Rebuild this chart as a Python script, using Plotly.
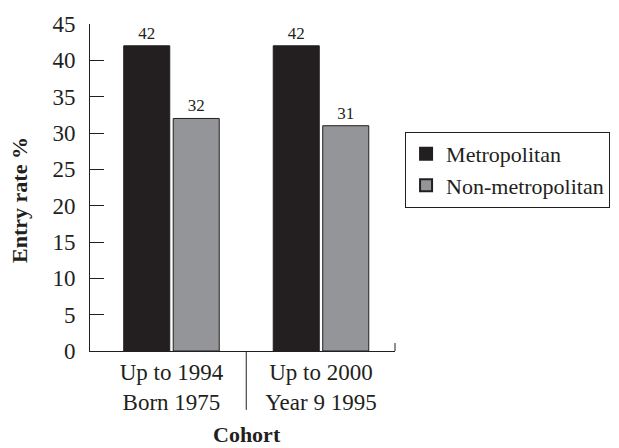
import plotly.graph_objects as go

categories = ["Up to 1994<br>Born 1975", "Up to 2000<br>Year 9 1995"]
series_names = ["Metropolitan", "Non-metropolitan"]
metropolitan = [42, 42]
non_metropolitan = [32, 31]
y_ticks = [0, 5, 10, 15, 20, 25, 30, 35, 40, 45]

FONT = "Liberation Serif"
INK = "#231f20"
colors = ["#231f20", "#939598"]

fig = go.Figure()
for name, vals, col in zip(series_names, [metropolitan, non_metropolitan], colors):
    fig.add_trace(go.Bar(
        x=categories, y=vals, name=name, showlegend=False,
        marker=dict(color=col, line=dict(color=INK, width=1)),
        text=[str(v) for v in vals], textposition="outside",
        textfont=dict(family=FONT, size=17, color=INK),
        cliponaxis=False,
    ))
# legend proxies (larger square swatches)
for name, col in zip(series_names, colors):
    fig.add_trace(go.Scatter(
        x=[None], y=[None], mode="markers", name=name,
        marker=dict(symbol="square", size=15, color=col, line=dict(color=INK, width=1)),
    ))

# the page body has an 8px default margin; size the figure so the page is filled
fig.update_layout(
    width=611, height=440,
    margin=dict(l=82, r=224, t=16, b=97, autoexpand=False),
    paper_bgcolor="white", plot_bgcolor="white",
    font=dict(family=FONT, size=23, color=INK),
    barmode="group", bargap=0.338, bargroupgap=0.07,
    showlegend=True,
    legend=dict(x=1.033, y=0.67, xanchor="left", yanchor="top",
                bordercolor=INK, borderwidth=1,
                font=dict(family=FONT, size=22, color=INK),
                tracegroupgap=0, itemsizing="constant", itemwidth=30),
    xaxis=dict(range=[-0.545, 1.495], showline=True, linecolor=INK, linewidth=1,
               ticks="", showgrid=False, zeroline=False, automargin=False,
               tickfont=dict(family=FONT, size=23, color=INK)),
    yaxis=dict(range=[0, 45], tickvals=y_ticks, showline=True, linecolor=INK, linewidth=1,
               ticks="inside", ticklen=14, tickcolor=INK, showgrid=False, zeroline=False,
               automargin=False, ticklabelstandoff=9,
               tickfont=dict(family=FONT, size=23, color=INK)),
    shapes=[
        dict(type="line", xref="x", yref="paper", x0=0.5, x1=0.5, y0=0, y1=-0.18,
             line=dict(color=INK, width=1)),
        dict(type="line", xref="paper", yref="paper", x0=1, x1=1, y0=0, y1=0.0245,
             line=dict(color=INK, width=1)),
    ],
    annotations=[
        dict(text="<b>Entry rate %</b>", xref="paper", yref="paper", x=-0.2295, y=0.462,
             textangle=-90, showarrow=False, xanchor="center", yanchor="middle",
             font=dict(family=FONT, size=22, color=INK)),
        dict(text="<b>Cohort</b>", xref="paper", yref="paper", x=0.515, y=-0.255,
             showarrow=False, xanchor="center", yanchor="middle",
             font=dict(family=FONT, size=22, color=INK)),
    ],
)

fig.write_html("out.html")
